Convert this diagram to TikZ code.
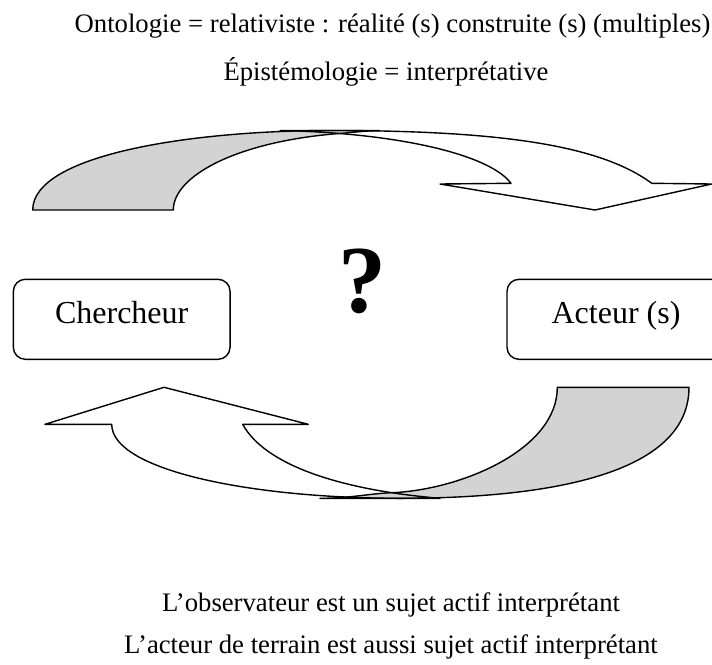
\documentclass[tikz,border=0pt]{standalone}
\usepackage{fontspec}
\setmainfont{Liberation Serif}
\definecolor{arrowgray}{RGB}{211,211,211}
\begin{document}
\begin{tikzpicture}[x=1pt,y=-1pt,line join=round,
  edge/.style={draw=black,line width=1.4pt},
  face/.style={fill=arrowgray},
  front/.style={fill=white},
  box/.style={draw=black,line width=1.4pt,rounded corners=12pt,inner sep=0pt,
    text height=22pt,text depth=14.6pt,minimum height=80pt,
    font=\fontsize{32}{38}\selectfont},
  lbl/.style={anchor=base,inner sep=0pt,font=\fontsize{26.7}{32}\selectfont}]
\useasboundingbox (0,0) rectangle (712,664);
\clip (0,0) rectangle (712,664);
% ---- texts
\node[lbl] (t1) at (392.5,32) {Ontologie = relativiste : réalité (s) construite (s) (multiples)};
\node[lbl] (t2) at (386,80) {Épistémologie = interprétative};
\node[lbl] (b1) at (391,611) {L’observateur est un sujet actif interprétant};
\node[lbl] (b2) at (391,653) {L’acteur de terrain est aussi sujet actif interprétant};
\node[anchor=base,inner sep=0pt,font=\fontsize{96}{100}\selectfont\bfseries] (q) at (362.5,312) {?};
% ---- boxes
\node[box,minimum width=216.7pt] (ch) at (121.7,319.3) {Chercheur};
\node[box,minimum width=218pt] (ac) at (616,319.3) {Acteur (s)};
% ---- top curved arrow: fills
\path[front] (280,130.5) -- (330,130.5) .. controls (500,130.5) and (600,145) .. (651.7,183.3)
  -- (711.7,184) -- (595,210) -- (440,184) -- (511,183.3)
  .. controls (490,155) and (400,133) .. (280,130.5) -- cycle;
\path[face] (32.7,210) .. controls (32.7,155) and (190,130.5) .. (330,130.5) -- (380,130.5)
  .. controls (365,131) and (355,132) .. (346,133)
  .. controls (240,140) and (173.3,175) .. (173.3,210) -- cycle;
% ---- top curved arrow: outlines
\path[edge] (280,130.5) -- (330,130.5) .. controls (500,130.5) and (600,145) .. (651.7,183.3)
  -- (711.7,184) -- (595,210) -- (440,184) -- (511,183.3)
  .. controls (490,155) and (400,133) .. (280,130.5) -- cycle;
\path[edge] (32.7,210) .. controls (32.7,155) and (190,130.5) .. (330,130.5) -- (380,130.5)
  .. controls (365,131) and (355,132) .. (346,133)
  .. controls (240,140) and (173.3,175) .. (173.3,210) -- cycle;
% ---- bottom curved arrow: fills
\path[front] (440,498.3) -- (400,498.3) .. controls (250,498.3) and (111.7,470) .. (111.7,424.3)
  -- (45,424.3) -- (164,387.3) -- (308.3,424.3) -- (242.7,424.3)
  .. controls (265,465) and (340,490) .. (440,498.3) -- cycle;
\path[face] (689,387.3) .. controls (689,480) and (530,498.3) .. (400,498.3) -- (320,498.3)
  .. controls (350,498.3) and (370,493.5) .. (391.7,492.7)
  .. controls (460,490) and (557.3,450) .. (557.3,387.3) -- cycle;
% ---- bottom curved arrow: outlines
\path[edge] (440,498.3) -- (400,498.3) .. controls (250,498.3) and (111.7,470) .. (111.7,424.3)
  -- (45,424.3) -- (164,387.3) -- (308.3,424.3) -- (242.7,424.3)
  .. controls (265,465) and (340,490) .. (440,498.3) -- cycle;
\path[edge] (689,387.3) .. controls (689,480) and (530,498.3) .. (400,498.3) -- (320,498.3)
  .. controls (350,498.3) and (370,493.5) .. (391.7,492.7)
  .. controls (460,490) and (557.3,450) .. (557.3,387.3) -- cycle;
\end{tikzpicture}
\end{document}
